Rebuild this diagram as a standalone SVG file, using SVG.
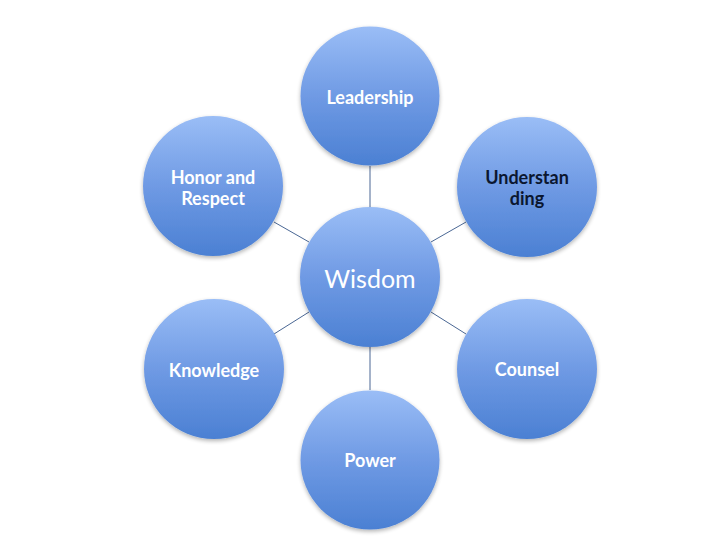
<svg xmlns="http://www.w3.org/2000/svg" width="720" height="540" viewBox="0 0 720 540">
<defs>
<linearGradient id="g" x1="0" y1="0" x2="0" y2="1">
<stop offset="0" stop-color="#9abdf6"/>
<stop offset="0.5" stop-color="#6f9ae4"/>
<stop offset="1" stop-color="#4b80d3"/>
</linearGradient>
<filter id="sh" x="-20%" y="-20%" width="140%" height="150%">
<feGaussianBlur in="SourceAlpha" stdDeviation="2"/>
<feOffset dy="2" result="b"/>
<feComponentTransfer><feFuncA type="linear" slope="0.3"/></feComponentTransfer>
<feMerge><feMergeNode/><feMergeNode in="SourceGraphic"/></feMerge>
</filter>
</defs>
<style>
.c{fill:url(#g);filter:url(#sh)}
.t{font-family:Lato,"Open Sans","Liberation Sans",sans-serif;font-weight:bold;font-size:18px;fill:#ffffff;text-anchor:middle}
.d{fill:#0b1730}
.w{font-family:Lato,"Open Sans","Liberation Sans",sans-serif;font-size:25px;fill:#ffffff;text-anchor:middle}
.l{stroke:#4a6794;stroke-width:1;fill:none}
</style>
<rect width="720" height="540" fill="#ffffff"/>
<g id="connectors">
<line class="l" x1="370" y1="166" x2="370" y2="207"/>
<line class="l" x1="431" y1="242" x2="466" y2="222"/>
<line class="l" x1="431" y1="312" x2="466" y2="334"/>
<line class="l" x1="370" y1="347" x2="370" y2="390"/>
<line class="l" x1="309" y1="312" x2="274" y2="334"/>
<line class="l" x1="309" y1="242" x2="274" y2="222"/>
</g>
<g id="wisdom"><circle class="c" cx="370" cy="277" r="70"/><text class="w" x="370" y="288">Wisdom</text></g>
<g id="leadership"><circle class="c" cx="370" cy="96" r="69.5"/><text class="t" x="370" y="104">Leadership</text></g>
<g id="understanding"><circle class="c" cx="527" cy="187" r="70"/><text class="t d" x="527" y="184">Understan</text><text class="t d" x="527" y="205">ding</text></g>
<g id="counsel"><circle class="c" cx="527" cy="369" r="70"/><text class="t" x="527" y="376">Counsel</text></g>
<g id="power"><circle class="c" cx="370" cy="460" r="69.5"/><text class="t" x="370" y="467">Power</text></g>
<g id="knowledge"><circle class="c" cx="214" cy="369" r="70"/><text class="t" x="214" y="377">Knowledge</text></g>
<g id="honor"><circle class="c" cx="213" cy="186" r="70"/><text class="t" x="213" y="184">Honor and</text><text class="t" x="213" y="205">Respect</text></g>
</svg>
